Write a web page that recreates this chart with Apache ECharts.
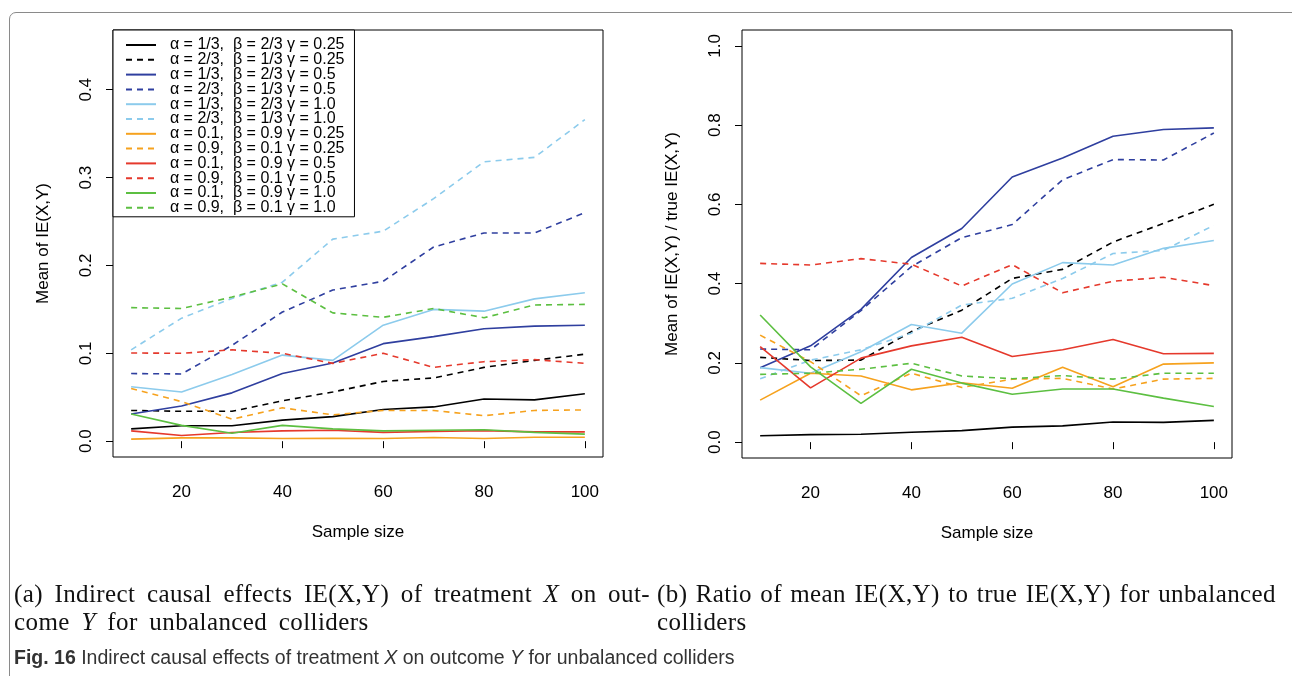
<!DOCTYPE html>
<html>
<head>
<meta charset="utf-8">
<script src="https://cdn.jsdelivr.net/npm/echarts@6/dist/echarts.min.js"></script>
<style>
  html, body { margin: 0; padding: 0; background: #fff; }
  #wrap { position: relative; width: 1292px; height: 676px; overflow: hidden; }
  #frame { position: absolute; left: 9px; top: 12px; width: 1300px; height: 700px; border: 1px solid #8a8a8a; border-radius: 7px; box-sizing: border-box; }
  #chart { position: absolute; left: 0; top: 0; width: 1292px; height: 676px; }
  .cap { position: absolute; font-family: "Liberation Serif", "DejaVu Serif", serif; font-size: 25px; line-height: 28px; color: #111; white-space: nowrap; letter-spacing: 0.4px; word-spacing: 5px; }
  .just { text-align: justify; text-align-last: justify; word-spacing: 0; }
  .fig { position: absolute; left: 14px; top: 646px; font-family: "Liberation Sans", "Noto Sans", sans-serif; font-size: 19.5px; line-height: 22px; color: #333; white-space: nowrap; }
</style>
</head>
<body>
<div id="wrap">
  <div id="frame"></div>
  <div id="chart"></div>
  <div class="cap just" style="left:14px; top:580px; width:636px;">(a) Indirect causal effects IE(X,Y) of treatment <i>X</i> on out-</div>
  <div class="cap" style="left:14px; top:608px;">come <i>Y</i> for unbalanced colliders</div>
  <div class="cap just" style="left:657px; top:580px; width:619px;">(b) Ratio of mean IE(X,Y) to true IE(X,Y) for unbalanced</div>
  <div class="cap" style="left:657px; top:608px;">colliders</div>
  <div class="fig"><b>Fig. 16</b> Indirect causal effects of treatment <i>X</i> on outcome <i>Y</i> for unbalanced colliders</div>
</div>
<script>
// ---------- data ----------
const sampleSizes = [10, 20, 30, 40, 50, 60, 70, 80, 90, 100];
const seriesNames = [
  "\u03b1 = 1/3,  \u03b2 = 2/3 \u03b3 = 0.25",
  "\u03b1 = 2/3,  \u03b2 = 1/3 \u03b3 = 0.25",
  "\u03b1 = 1/3,  \u03b2 = 2/3 \u03b3 = 0.5",
  "\u03b1 = 2/3,  \u03b2 = 1/3 \u03b3 = 0.5",
  "\u03b1 = 1/3,  \u03b2 = 2/3 \u03b3 = 1.0",
  "\u03b1 = 2/3,  \u03b2 = 1/3 \u03b3 = 1.0",
  "\u03b1 = 0.1,  \u03b2 = 0.9 \u03b3 = 0.25",
  "\u03b1 = 0.9,  \u03b2 = 0.1 \u03b3 = 0.25",
  "\u03b1 = 0.1,  \u03b2 = 0.9 \u03b3 = 0.5",
  "\u03b1 = 0.9,  \u03b2 = 0.1 \u03b3 = 0.5",
  "\u03b1 = 0.1,  \u03b2 = 0.9 \u03b3 = 1.0",
  "\u03b1 = 0.9,  \u03b2 = 0.1 \u03b3 = 1.0"
];
const leftTicksX = [20, 40, 60, 80, 100];
const leftTicksY = [0, 0.1, 0.2, 0.3, 0.4];
const rightTicksY = [0, 0.2, 0.4, 0.6, 0.8, 1.0];

// (a) mean IE(X,Y)
const meanA13G025 = [0.014, 0.0175, 0.0175, 0.024, 0.028, 0.036, 0.039, 0.048, 0.047, 0.054];
const meanA23G025 = [0.035, 0.034, 0.034, 0.046, 0.056, 0.068, 0.072, 0.084, 0.092, 0.099];
const meanA13G05  = [0.031, 0.040, 0.055, 0.077, 0.089, 0.111, 0.119, 0.128, 0.131, 0.132];
const meanA23G05  = [0.077, 0.0765, 0.109, 0.147, 0.172, 0.182, 0.221, 0.237, 0.237, 0.260];
const meanA13G10  = [0.062, 0.056, 0.076, 0.098, 0.092, 0.132, 0.150, 0.148, 0.162, 0.169];
const meanA23G10  = [0.104, 0.140, 0.1625, 0.181, 0.230, 0.239, 0.276, 0.318, 0.323, 0.366];
const meanA01G025 = [0.0023, 0.0038, 0.0038, 0.003, 0.0034, 0.003, 0.0042, 0.003, 0.0045, 0.0045];
const meanA09G025 = [0.060, 0.045, 0.025, 0.038, 0.030, 0.035, 0.035, 0.029, 0.035, 0.0356];
const meanA01G05  = [0.0117, 0.0064, 0.0098, 0.0117, 0.0125, 0.010, 0.011, 0.012, 0.0106, 0.0106];
const meanA09G05  = [0.1004, 0.100, 0.104, 0.100, 0.0886, 0.100, 0.084, 0.0905, 0.0928, 0.0886];
const meanA01G10  = [0.031, 0.018, 0.009, 0.018, 0.014, 0.0117, 0.0125, 0.013, 0.010, 0.008];
const meanA09G10  = [0.152, 0.151, 0.164, 0.179, 0.146, 0.141, 0.151, 0.1405, 0.155, 0.1557];

// (b) ratio mean IE / true IE
const ratioA13G025 = [0.016, 0.019, 0.020, 0.025, 0.029, 0.038, 0.041, 0.051, 0.050, 0.055];
const ratioA23G025 = [0.214, 0.206, 0.207, 0.279, 0.333, 0.413, 0.436, 0.505, 0.552, 0.600];
const ratioA13G05  = [0.188, 0.243, 0.335, 0.466, 0.539, 0.669, 0.717, 0.772, 0.789, 0.793];
const ratioA23G05  = [0.235, 0.233, 0.332, 0.443, 0.516, 0.549, 0.662, 0.713, 0.712, 0.780];
const ratioA13G10  = [0.188, 0.174, 0.228, 0.297, 0.275, 0.399, 0.453, 0.447, 0.489, 0.509];
const ratioA23G10  = [0.160, 0.207, 0.233, 0.275, 0.346, 0.363, 0.413, 0.476, 0.484, 0.547];
const ratioA01G025 = [0.106, 0.174, 0.167, 0.132, 0.150, 0.136, 0.189, 0.140, 0.197, 0.200];
const ratioA09G025 = [0.270, 0.203, 0.117, 0.174, 0.138, 0.159, 0.161, 0.134, 0.159, 0.161];
const ratioA01G05  = [0.241, 0.137, 0.212, 0.243, 0.2645, 0.216, 0.233, 0.259, 0.223, 0.224];
const ratioA09G05  = [0.451, 0.447, 0.463, 0.449, 0.394, 0.448, 0.377, 0.406, 0.416, 0.395];
const ratioA01G10  = [0.321, 0.190, 0.098, 0.184, 0.149, 0.121, 0.134, 0.134, 0.111, 0.090];
const ratioA09G10  = [0.171, 0.174, 0.184, 0.199, 0.167, 0.160, 0.168, 0.159, 0.174, 0.174];

const leftData = [meanA13G025, meanA23G025, meanA13G05, meanA23G05, meanA13G10, meanA23G10,
                  meanA01G025, meanA09G025, meanA01G05, meanA09G05, meanA01G10, meanA09G10];
const rightData = [ratioA13G025, ratioA23G025, ratioA13G05, ratioA23G05, ratioA13G10, ratioA23G10,
                   ratioA01G025, ratioA09G025, ratioA01G05, ratioA09G05, ratioA01G10, ratioA09G10];

// ---------- styles ----------
const lineColors = ["#000000", "#000000", "#2f3f9f", "#2f3f9f", "#8ccbec", "#8ccbec",
                    "#f6a21e", "#f6a21e", "#e5392c", "#e5392c", "#5cbf41", "#5cbf41"];
const lineDashed = [false, true, false, true, false, true, false, true, false, true, false, true];

const FONT = '"Liberation Sans", Arial, Helvetica, sans-serif';

function makeSeries(dataList, idx) {
  return dataList.map((vals, i) => ({
    type: 'line',
    name: seriesNames[i],
    xAxisIndex: idx,
    yAxisIndex: idx,
    symbol: 'none',
    showSymbol: false,
    animation: false,
    silent: true,
    data: sampleSizes.map((x, j) => [x, vals[j]]),
    lineStyle: { color: lineColors[i], width: 1.6, type: lineDashed[i] ? [6, 5] : 'solid' },
    itemStyle: { color: lineColors[i] }
  }));
}

function xAxisCfg(gi) {
  return {
    type: 'value', gridIndex: gi, min: 6.4, max: 103.6,
    axisLine: { show: false },
    axisTick: { show: true, length: 7, customValues: leftTicksX, lineStyle: { color: '#000', width: 1 } },
    axisLabel: { customValues: leftTicksX, color: '#000', fontSize: 17, fontFamily: FONT, margin: 27 },
    splitLine: { show: false },
    name: 'Sample size', nameLocation: 'middle', nameGap: 67,
    nameTextStyle: { color: '#000', fontSize: 17, fontFamily: FONT }
  };
}

function yAxisCfg(gi, min, max, ticks, name, gap) {
  return {
    type: 'value', gridIndex: gi, min: min, max: max,
    axisLine: { show: false },
    axisTick: { show: true, length: 7, customValues: ticks, lineStyle: { color: '#000', width: 1 } },
    axisLabel: { customValues: ticks, rotate: 90, color: '#000', fontSize: 17, fontFamily: FONT, margin: 18,
                 formatter: v => Number(v).toFixed(1) },
    splitLine: { show: false },
    name: name, nameLocation: 'middle', nameGap: gap, nameRotate: 90,
    nameTextStyle: { color: '#000', fontSize: 17, fontFamily: FONT }
  };
}

const chart = echarts.init(document.getElementById('chart'), null, { renderer: 'canvas' });
chart.setOption({
  animation: false,
  backgroundColor: 'transparent',
  grid: [
    { left: 113, top: 30, width: 490, height: 427, show: true, borderColor: '#000', borderWidth: 1, backgroundColor: 'transparent' },
    { left: 742, top: 30, width: 490, height: 428, show: true, borderColor: '#000', borderWidth: 1, backgroundColor: 'transparent' }
  ],
  xAxis: [xAxisCfg(0), xAxisCfg(1)],
  yAxis: [
    yAxisCfg(0, -0.018, 0.468, leftTicksY, 'Mean of IE(X,Y)', 61),
    yAxisCfg(1, -0.04, 1.04, rightTicksY, 'Mean of IE(X,Y) / true IE(X,Y)', 61)
  ],
  legend: {
    data: seriesNames,
    orient: 'vertical',
    left: 113, top: 30,
    padding: [7, 10, 1, 12],
    itemWidth: 30, itemHeight: 10, itemGap: -1.2,
    backgroundColor: '#fff',
    borderColor: '#000', borderWidth: 1,
    selectedMode: false,
    itemStyle: { opacity: 0 },
    formatter: n => '  ' + n,
    textStyle: { color: '#000', fontSize: 16, fontFamily: FONT, lineHeight: 14 }
  },
  series: makeSeries(leftData, 0).concat(makeSeries(rightData, 1))
});
</script>
</body>
</html>
